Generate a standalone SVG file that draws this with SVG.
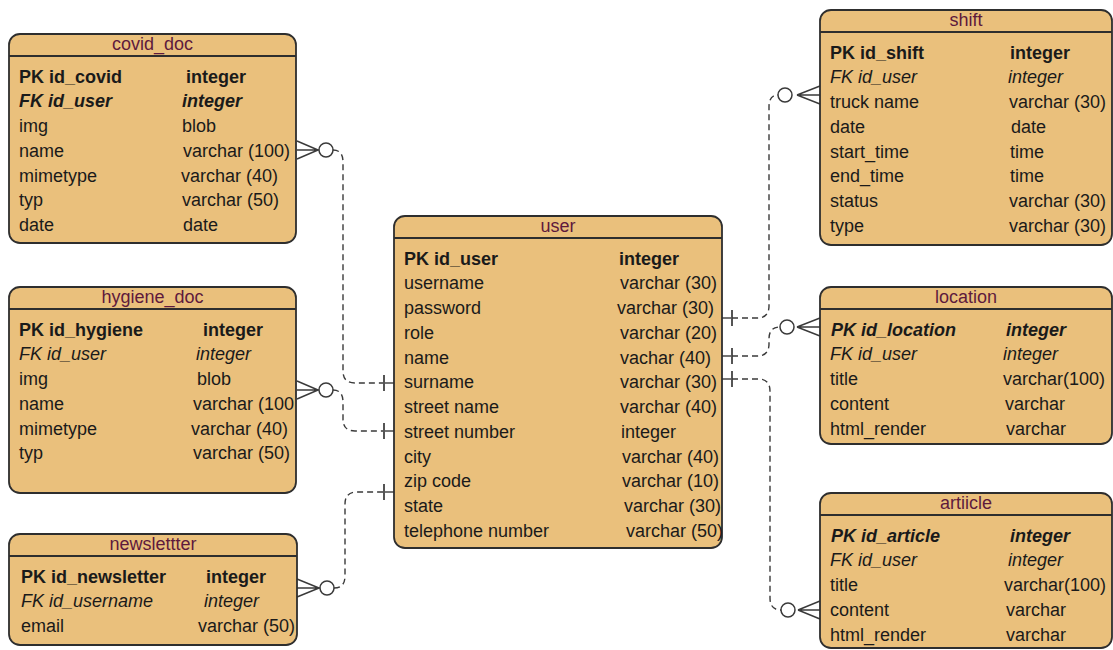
<svg xmlns="http://www.w3.org/2000/svg" width="1113" height="650" viewBox="0 0 1113 650">
<style>
.box{fill:#EAC07C;stroke:#2e2e2e;stroke-width:1.8}
.hdr{stroke:#2e2e2e;stroke-width:1.8}
text{font-family:"Liberation Sans",Arial,sans-serif;font-size:18px;fill:#1a1a1a}
.title{fill:#5e1a3c;text-anchor:middle}
.b{font-weight:bold}
.i{font-style:italic}
.bi{font-weight:bold;font-style:italic}
.dash{fill:none;stroke:#3a3a3a;stroke-width:1.4;stroke-dasharray:6 4}
.solid{fill:none;stroke:#3a3a3a;stroke-width:1.4}
.bar{stroke:#555;stroke-width:2}
.circ{fill:#fff;stroke:#3a3a3a;stroke-width:1.5}
</style>
<rect width="1113" height="650" fill="#fff"/>

<g id="connectors">
  <!-- covid_doc -> user.surname -->
  <path class="solid" d="M297 141 L318 150 M297 159 L318 150 M297 150 L319 150"/>
  <circle class="circ" cx="326" cy="150" r="7"/>
  <path class="dash" d="M333 150 Q343 150 343 162 L343 371 Q343 383 355 383 L384 383"/>
  <path class="solid" d="M384 383 L394 383"/>
  <line class="bar" x1="384" y1="375" x2="384" y2="391"/>

  <!-- hygiene_doc -> user.street number -->
  <path class="solid" d="M297 381 L318 390 M297 399 L318 390 M297 390 L319 390"/>
  <circle class="circ" cx="326" cy="390" r="7"/>
  <path class="dash" d="M333 390 Q343 390 343 402 L343 419 Q343 431 355 431 L384 431"/>
  <path class="solid" d="M384 431 L394 431"/>
  <line class="bar" x1="384" y1="423" x2="384" y2="439"/>

  <!-- newslettter -> user.zip -->
  <path class="solid" d="M297 579 L319 588 M297 597 L319 588 M297 588 L320 588"/>
  <circle class="circ" cx="327" cy="588" r="7"/>
  <path class="dash" d="M334 588 Q345 588 345 576 L345 504 Q345 492 357 492 L384 492"/>
  <path class="solid" d="M384 492 L394 492"/>
  <line class="bar" x1="384" y1="484" x2="384" y2="500"/>

  <!-- user -> shift -->
  <path class="solid" d="M722 318 L732 318"/>
  <line class="bar" x1="732" y1="310" x2="732" y2="326"/>
  <path class="dash" d="M732 318 L757 318 Q769 318 769 306 L769 107 Q769 95 778 95"/>
  <circle class="circ" cx="785" cy="95" r="7"/>
  <path class="solid" d="M820 86 L797 95 M820 104 L797 95 M820 95 L797 95"/>

  <!-- user -> location -->
  <path class="solid" d="M722 356 L732 356"/>
  <line class="bar" x1="732" y1="348" x2="732" y2="364"/>
  <path class="dash" d="M732 356 L757 356 Q769 356 769 344 L769 339 Q769 327 780 327"/>
  <circle class="circ" cx="787" cy="327" r="7"/>
  <path class="solid" d="M820 318 L797 327 M820 336 L797 327 M820 327 L797 327"/>

  <!-- user -> artiicle -->
  <path class="solid" d="M722 379 L732 379"/>
  <line class="bar" x1="732" y1="371" x2="732" y2="387"/>
  <path class="dash" d="M732 379 L758 379 Q770 379 770 391 L770 598 Q770 610 781 610"/>
  <circle class="circ" cx="788" cy="610" r="7"/>
  <path class="solid" d="M820 601 L798 610 M820 619 L798 610 M820 610 L798 610"/>
</g>

<g id="covid_doc">
  <rect class="box" x="9" y="34" width="287" height="209" rx="11"/>
  <line class="hdr" x1="9" y1="56" x2="296" y2="56"/>
  <text class="title" x="152.5" y="50">covid_doc</text>
  <text class="b" x="19" y="82.5">PK id_covid</text><text class="b" x="186" y="82.5">integer</text>
  <text class="bi" x="19" y="107.2">FK id_user</text><text class="bi" x="182" y="107.2">integer</text>
  <text x="19" y="132">img</text><text x="182" y="132">blob</text>
  <text x="19" y="156.7">name</text><text x="183" y="156.7">varchar (100)</text>
  <text x="19" y="181.5">mimetype</text><text x="181" y="181.5">varchar (40)</text>
  <text x="19" y="206.2">typ</text><text x="182" y="206.2">varchar (50)</text>
  <text x="19" y="231">date</text><text x="183" y="231">date</text>
</g>

<g id="hygiene_doc">
  <rect class="box" x="9" y="287" width="287" height="206" rx="11"/>
  <line class="hdr" x1="9" y1="309" x2="296" y2="309"/>
  <text class="title" x="152.5" y="303">hygiene_doc</text>
  <text class="b" x="19" y="335.5">PK id_hygiene</text><text class="b" x="203" y="335.5">integer</text>
  <text class="i" x="19" y="360.2">FK id_user</text><text class="i" x="196" y="360.2">integer</text>
  <text x="19" y="385">img</text><text x="197" y="385">blob</text>
  <text x="19" y="409.7">name</text><text x="193" y="409.7">varchar (100</text>
  <text x="19" y="434.5">mimetype</text><text x="191" y="434.5">varchar (40)</text>
  <text x="19" y="459.2">typ</text><text x="193" y="459.2">varchar (50)</text>
</g>

<g id="newslettter">
  <rect class="box" x="9" y="534" width="288" height="111" rx="11"/>
  <line class="hdr" x1="9" y1="556" x2="297" y2="556"/>
  <text class="title" x="153" y="550">newslettter</text>
  <text class="b" x="21" y="582.5">PK id_newsletter</text><text class="b" x="206" y="582.5">integer</text>
  <text class="i" x="21" y="607.2">FK id_username</text><text class="i" x="204" y="607.2">integer</text>
  <text x="21" y="632">email</text><text x="198" y="632">varchar (50)</text>
</g>

<g id="user">
  <rect class="box" x="394" y="216" width="328" height="332" rx="11"/>
  <line class="hdr" x1="394" y1="238" x2="722" y2="238"/>
  <text class="title" x="558" y="232">user</text>
  <text class="b" x="404" y="264.5">PK id_user</text><text class="b" x="619" y="264.5">integer</text>
  <text x="404" y="289.2">username</text><text x="620" y="289.2">varchar (30)</text>
  <text x="404" y="314">password</text><text x="617" y="314">varchar (30)</text>
  <text x="404" y="338.7">role</text><text x="620" y="338.7">varchar (20)</text>
  <text x="404" y="363.5">name</text><text x="620" y="363.5">vachar (40)</text>
  <text x="404" y="388.2">surname</text><text x="620" y="388.2">varchar (30)</text>
  <text x="404" y="413">street name</text><text x="620" y="413">varchar (40)</text>
  <text x="404" y="437.7">street number</text><text x="621" y="437.7">integer</text>
  <text x="404" y="462.5">city</text><text x="622" y="462.5">varchar (40)</text>
  <text x="404" y="487.2">zip code</text><text x="622" y="487.2">varchar (10)</text>
  <text x="404" y="512">state</text><text x="624" y="512">varchar (30)</text>
  <text x="404" y="536.7">telephone number</text><text x="626" y="536.7">varchar (50)</text>
</g>

<g id="shift">
  <rect class="box" x="820" y="10" width="292" height="235" rx="11"/>
  <line class="hdr" x1="820" y1="32" x2="1112" y2="32"/>
  <text class="title" x="966" y="26">shift</text>
  <text class="b" x="830" y="58.5">PK id_shift</text><text class="b" x="1010" y="58.5">integer</text>
  <text class="i" x="830" y="83.2">FK id_user</text><text class="i" x="1008" y="83.2">integer</text>
  <text x="830" y="108">truck name</text><text x="1009" y="108">varchar (30)</text>
  <text x="830" y="132.7">date</text><text x="1011" y="132.7">date</text>
  <text x="830" y="157.5">start_time</text><text x="1010" y="157.5">time</text>
  <text x="830" y="182.2">end_time</text><text x="1010" y="182.2">time</text>
  <text x="830" y="207">status</text><text x="1009" y="207">varchar (30)</text>
  <text x="830" y="231.7">type</text><text x="1009" y="231.7">varchar (30)</text>
</g>

<g id="location">
  <rect class="box" x="820" y="287" width="292" height="157" rx="11"/>
  <line class="hdr" x1="820" y1="309" x2="1112" y2="309"/>
  <text class="title" x="966" y="303">location</text>
  <text class="bi" x="831" y="335.5">PK id_location</text><text class="bi" x="1006" y="335.5">integer</text>
  <text class="i" x="830" y="360.2">FK id_user</text><text class="i" x="1003" y="360.2">integer</text>
  <text x="830" y="385">title</text><text x="1003" y="385">varchar(100)</text>
  <text x="830" y="409.7">content</text><text x="1005" y="409.7">varchar</text>
  <text x="830" y="434.5">html_render</text><text x="1006" y="434.5">varchar</text>
</g>

<g id="artiicle">
  <rect class="box" x="820" y="493" width="292" height="155" rx="11"/>
  <line class="hdr" x1="820" y1="515" x2="1112" y2="515"/>
  <text class="title" x="966" y="509">artiicle</text>
  <text class="bi" x="831" y="541.5">PK id_article</text><text class="bi" x="1010" y="541.5">integer</text>
  <text class="i" x="830" y="566.2">FK id_user</text><text class="i" x="1008" y="566.2">integer</text>
  <text x="830" y="591">title</text><text x="1004" y="591">varchar(100)</text>
  <text x="830" y="615.7">content</text><text x="1006" y="615.7">varchar</text>
  <text x="830" y="640.5">html_render</text><text x="1006" y="640.5">varchar</text>
</g>
</svg>
